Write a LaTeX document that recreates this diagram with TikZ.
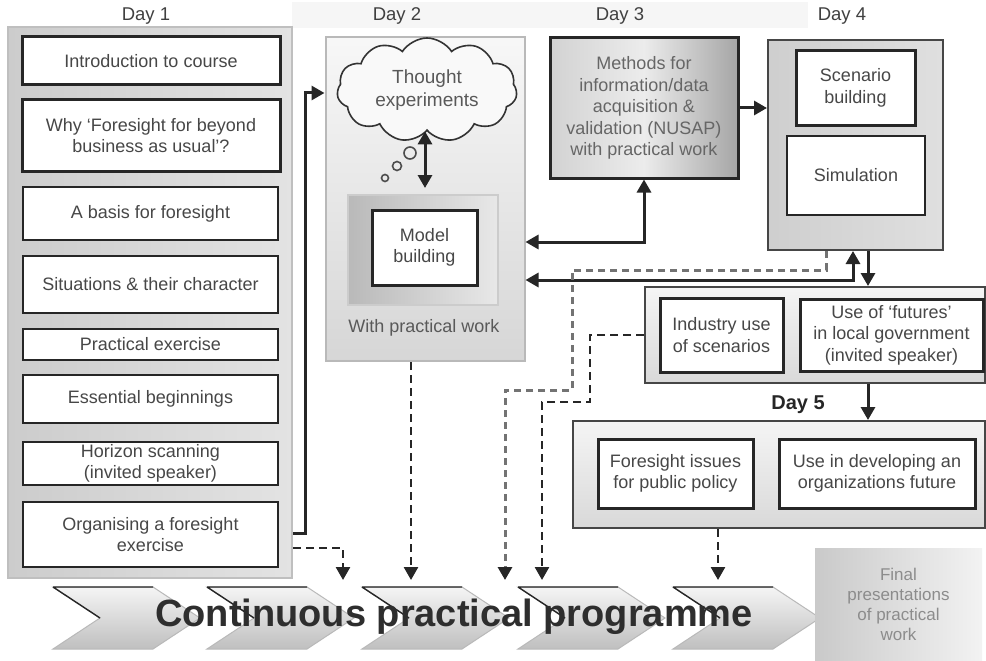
\documentclass[tikz,border=0pt]{standalone}
\usepackage{fontspec}
\setmainfont{Liberation Sans}
\usetikzlibrary{arrows.meta,shapes.symbols}
\newcommand\boxfont{\fontsize{18}{21.5}\selectfont}
\newcommand\dayfont{\fontsize{18.5}{21}\selectfont}
\tikzset{
  panel/.style={draw=gray!55!black, line width=2pt, inner sep=0pt},
  wbox/.style={draw=black!85, line width=2.6pt, fill=white, inner sep=0pt, align=center,
     text=black!72, font=\boxfont},
  daylab/.style={text=gray!50!black, font=\dayfont},
  solidarr/.style={line width=3pt, draw=black!85, -{Triangle[width=14pt,length=13pt]}},
  dblarr/.style={line width=3pt, draw=black!85, {Triangle[width=14pt,length=13pt]}-{Triangle[width=14pt,length=13pt]}},
  dasharr/.style={line width=2.6pt, draw=black!85, dash pattern=on 8pt off 5pt, -{Triangle[width=14pt,length=13pt]}},
  gdasharr/.style={line width=3pt, draw=black!55, dash pattern=on 7pt off 5pt, -{Triangle[width=14pt,length=13pt,black!85]}},
  chev/.style={top color=gray!8, bottom color=gray!50, draw=gray!55, line width=1pt},
}
\newcommand\chevron[1]{%
  \path[chev] (#1,587) -- ++(100,0) -- ++(47,31) -- ++(-47,31) -- ++(-100,0) -- ++(47,-31) -- cycle;
  \draw[gray!30!black, line width=1.4pt] (#1,587) -- ++(100,0) (#1,587) -- ++(47,31);}
\begin{document}
\begin{tikzpicture}[x=1pt,y=-1pt]
\useasboundingbox (0,0) rectangle (986,661);
\fill[white] (0,0) rectangle (986,661);
% top band
\fill[gray!7] (292,2) rectangle (808,28);
% day labels
\node[daylab] (l1) at (146,16) {Day 1};
\node[daylab] (l2) at (397,16) {Day 2};
\node[daylab] (l3) at (620,16) {Day 3};
\node[daylab] (l4) at (842,16) {Day 4};
\node[font=\fontsize{20}{22}\selectfont\bfseries, text=black!85] (l5) at (798,405) {Day 5};

% Day 1
\node[panel, draw=gray!50, left color=gray!40, right color=gray!22, minimum width=284pt, minimum height=551pt] (d1) at (150,302.5) {};
\node[wbox, line width=3pt, minimum width=258pt, minimum height=48pt] (b1) at (151,61) {Introduction to course};
\node[wbox, line width=3pt, minimum width=258pt, minimum height=71pt] (b2) at (151,135.5) {Why `Foresight for beyond\\business as usual'?};
\node[wbox, minimum width=255pt, minimum height=53pt] (b3) at (150.5,213.5) {A basis for foresight};
\node[wbox, minimum width=255pt, minimum height=57pt] (b4) at (150.5,284.5) {Situations \& their character};
\node[wbox, minimum width=255pt, minimum height=31pt] (b5) at (150.5,344.5) {Practical exercise};
\node[wbox, minimum width=255pt, minimum height=48pt] (b6) at (150.5,399) {Essential beginnings};
\node[wbox, minimum width=255pt, minimum height=43pt] (b7) at (150.5,463.5) {Horizon scanning\\(invited speaker)};
\node[wbox, minimum width=255pt, minimum height=65pt] (b8) at (150.5,534.5) {Organising a foresight\\exercise};

% Day 2
\node[panel, draw=gray!55, top color=gray!6, bottom color=gray!32, minimum width=199pt, minimum height=324pt] (d2) at (425,199) {};
\node[cloud, cloud puffs=11, cloud puff arc=115, aspect=1.8, draw=black!80, line width=1.6pt,
  fill=gray!5, minimum width=180pt, minimum height=104pt, align=center, text=black!65,
  font=\fontsize{19}{23}\selectfont, inner sep=0pt] (cloud) at (427,90) {Thought\\experiments};
\draw[gray!60!black, line width=1.6pt] (385,178) circle (3.5) (397,166) circle (4.5) (410,153) circle (6);
\node[draw=gray!40, line width=1.5pt, left color=gray!55, right color=gray!18, minimum width=150pt, minimum height=110pt, inner sep=0pt] (mp) at (423,250) {};
\node[wbox, line width=3pt, minimum width=105pt, minimum height=75pt] (mb) at (424.5,247.5) {Model\\building};
\node[text=black!65, font=\boxfont] (wp) at (424,328) {With practical work};

% Day 3
\node[draw=black!85, line width=3pt, left color=gray!35, right color=gray!70, middle color=gray!15,
  minimum width=188pt, minimum height=140pt, inner sep=0pt, align=center, text=black!60,
  font=\boxfont] (meth) at (644,108) {Methods for\\information/data\\acquisition \&\\validation (NUSAP)\\with practical work};

% Day 4
\node[panel, left color=gray!38, right color=gray!25, minimum width=175pt, minimum height=210pt] (d4) at (855.5,145) {};
\node[wbox, line width=3pt, minimum width=119pt, minimum height=74pt] (scen) at (855.5,88) {Scenario\\building};
\node[wbox, minimum width=138pt, minimum height=79pt] (sim) at (856,175.5) {Simulation};

% Day 4b
\node[panel, top color=gray!8, bottom color=gray!30, minimum width=340pt, minimum height=96pt] (d4b) at (815,335) {};
\node[wbox, line width=3pt, minimum width=123pt, minimum height=74pt] (ind) at (721.5,335) {Industry use\\of scenarios};
\node[wbox, line width=3pt, minimum width=183pt, minimum height=72pt] (fut) at (891.5,335) {Use of `futures'\\in local government\\(invited speaker)};

% Day 5
\node[panel, top color=gray!8, bottom color=gray!30, minimum width=412pt, minimum height=107pt] (d5) at (779,474.5) {};
\node[wbox, line width=3pt, minimum width=155pt, minimum height=69pt] (fip) at (675.5,473.5) {Foresight issues\\for public policy};
\node[wbox, line width=3pt, minimum width=196pt, minimum height=69pt] (uio) at (877,473.5) {Use in developing an\\organizations future};

% chevrons
\chevron{53}
\chevron{207}
\chevron{362}
\chevron{518}
\chevron{673}
\node[font=\fontsize{38}{40}\selectfont\bfseries, text=black!82] (prog) at (454,617) {Continuous practical programme};

% final presentations
\node[left color=gray!42, right color=gray!10, minimum width=167pt, minimum height=112pt, inner sep=0pt,
  align=center, text=black!45, font=\fontsize{17}{20}\selectfont] (fin) at (898.5,604) {Final\\presentations\\of practical\\work};

% free ends at the chevrons
\coordinate (t1) at (343,580);
\coordinate (t2) at (411,580);
\coordinate (t3) at (505,580);
\coordinate (t4) at (542,580);
\coordinate (t5) at (718,580);

% solid connectors
\draw[solidarr] (d1.east |- 0,533) -- (305,533) |- (d2.west |- 0,93);
\draw[dblarr] (cloud.south -| 425,0) -- (425,188);
\draw[dblarr] (d2.east |- 0,242) -- (meth.south |- 0,242) -- (meth.south);
\draw[solidarr] (meth.east) -- (d4.west |- meth.east);
\draw[dblarr] (d2.east |- 0,280) -- (853,280) -- (d4.south -| 853,0);
\draw[solidarr] (d4.south -| 868,0) -- (d4b.north -| 868,0);
\draw[solidarr] (d4b.south -| 868,0) -- (d5.north -| 868,0);

% dashed connectors
\draw[dasharr] (d1.east |- 0,548) -- (343,548) -- (t1);
\draw[dasharr] (d2.south -| t2) -- (t2);
\draw[gdasharr] (d4.south -| 826,0) -- (826,270) -- (572,270) -- (572,390) -- (505,390) -- (t3);
\draw[dasharr] (d4b.west) -- (590,335) -- (590,402) -- (542,402) -- (t4);
\draw[dasharr] (d5.south -| t5) -- (t5);
\end{tikzpicture}
\end{document}
